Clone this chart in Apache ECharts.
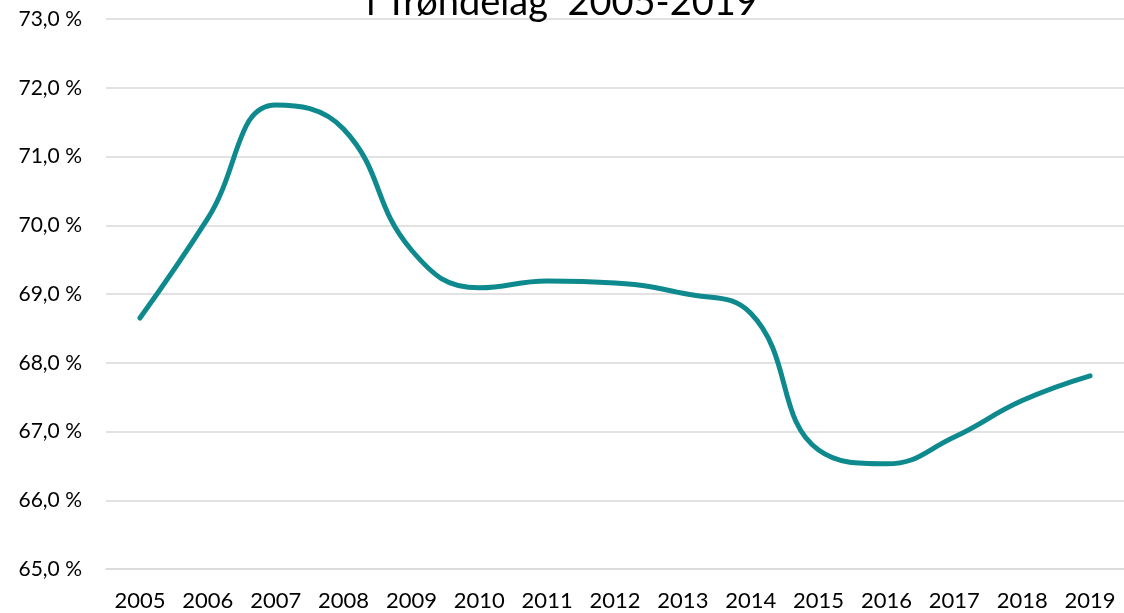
<!DOCTYPE html>
<html style="height: 100%">
<head>
  <meta charset="utf-8">
  <script type="text/javascript" src="https://cdn.jsdelivr.net/npm/echarts@6/dist/echarts.min.js"></script>
</head>
<body style="width: 100%; height: 100%; margin: 0; background: #fff">
<div id="main" style="width: 1124px; height: 613px;"></div>
<script type="text/javascript">
// år og andel (prosent)
var years = ['2005', '2006', '2007', '2008', '2009', '2010', '2011', '2012',
             '2013', '2014', '2015', '2016', '2017', '2018', '2019'];
var andel = [68.65, 70.1, 71.75, 71.4, 69.64, 69.09, 69.19, 69.16,
             69.01, 68.72, 66.73, 66.53, 66.92, 67.45, 67.81];
var titleText = 'i Trøndelag  2005-2019';

var myChart = echarts.init(document.getElementById('main'));
var font = 'Lato, "Open Sans", sans-serif';

var option = {
    animation: false,
    title: {
        text: titleText,
        left: 'center',
        top: -21,
        textStyle: { fontFamily: font, fontSize: 38, fontWeight: 'normal', color: '#000' }
    },
    grid: { left: 106, right: -2, top: 19, bottom: 44 },
    xAxis: {
        type: 'category',
        data: years,
        boundaryGap: true,
        axisLine: { show: true, lineStyle: { color: '#d9d9d9', width: 1.5 } },
        axisTick: { show: false },
        axisLabel: { fontFamily: font, fontSize: 22, color: '#000', margin: 21 }
    },
    yAxis: {
        type: 'value',
        min: 65,
        max: 73,
        interval: 1,
        axisLine: { show: false },
        axisTick: { show: false },
        splitLine: { lineStyle: { color: '#d9d9d9', width: 1.5 } },
        axisLabel: {
            fontFamily: font, fontSize: 21, color: '#000', margin: 24,
            formatter: function (v) { return v.toFixed(1).replace('.', ',') + ' %'; }
        }
    },
    series: [{
        type: 'line',
        data: andel,
        smooth: 0.45,
        symbol: 'none',
        lineStyle: { color: '#0E8A8E', width: 5, cap: 'round' }
    }]
};
myChart.setOption(option);
</script>
</body>
</html>
